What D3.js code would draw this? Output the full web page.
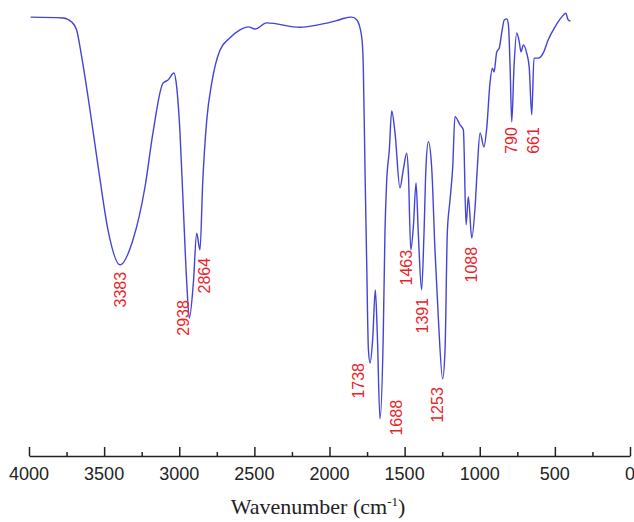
<!DOCTYPE html>
<html>
<head>
<meta charset="utf-8">
<script src="https://cdn.jsdelivr.net/npm/d3@7"></script>
<style>
body { margin: 0; background: #fff; }
svg { display: block; }
</style>
</head>
<body>
<svg id="chart" width="634" height="522"></svg>
<script>
// spectrum: wavenumber (cm-1) and transmittance (a.u.)
var wavenumber = [3989, 3774, 3716, 3683, 3649, 3594, 3527, 3474, 3394, 3308, 3228, 3175, 3108, 3075, 3035,
	3017, 2995, 2975, 2950, 2933, 2906, 2884, 2862, 2844, 2817, 2784, 2729, 2662, 2596, 2540, 2496, 2418, 2196, 2085, 1952,
	1908, 1852, 1819, 1786, 1775, 1764, 1752, 1741, 1730, 1713, 1695, 1682, 1664, 1642, 1631, 1620, 1602, 1586,
	1564, 1531, 1509, 1486, 1475, 1459, 1442, 1424, 1409, 1387, 1371, 1358, 1342, 1320, 1298, 1276, 1247, 1231,
	1216, 1198, 1180, 1165, 1131, 1109, 1091, 1076, 1053, 1031, 1016, 998, 972, 953, 932, 916, 905, 887, 870,
	854, 836, 820, 809, 798, 787, 772, 754, 737, 725, 710, 688, 671, 654, 639, 610, 577, 545, 499, 455, 427, 412, 396]
var transmittance = [96.1, 95.9, 95.0, 93.2, 87.0, 75.0, 59.1, 47.7, 39.8, 45.5, 57.5, 69.8, 81.1, 81.8, 83.4,
	80.2, 69.8, 54.5, 35.7, 27.7, 35.7, 47.0, 43.2, 58.4, 72.7, 81.1, 88.6, 91.4, 93.2, 93.9, 93.4, 94.8, 93.8, 94.3, 95.3,
	95.8, 96.1, 95.5, 91.7, 84.8, 62.0, 39.3, 20.5, 17.5, 22.7, 34.1, 24.3, 4.8, 24.3, 47.0, 58.4, 65.9, 74.8,
	69.8, 57.3, 61.4, 65.2, 60.7, 43.2, 48.4, 58.4, 47.0, 34.1, 47.0, 62.0, 67.8, 62.0, 43.2, 28.0, 13.9, 20.5,
	47.0, 54.5, 62.0, 73.5, 71.6, 70.5, 48.9, 55.3, 45.9, 53.0, 62.0, 69.8, 66.6, 71.1, 81.1, 84.5, 83.6, 88.2, 89.1,
	92.5, 95.5, 95.7, 94.3, 84.8, 72.3, 84.8, 92.5, 90.5, 88.2, 89.8, 88.0, 84.8, 73.9, 86.8, 86.8, 88.0, 90.9, 93.9, 96.1, 97.0, 95.5, 95.2]

// peak annotations: text, anchor wavenumber, top of the label (transmittance)
var peakLabels = ['3383', '2938', '2864', '1738', '1688', '1463', '1391', '1253', '1088', '790', '661']
var peakX = [3390, 2975, 2830, 1810, 1555, 1490, 1385, 1280, 1057, 790, 645]
var peakTop = [38.2, 31.8, 41.4, 17.5, 9.1, 43.2, 32.3, 12.0, 43.9, 71.1, 71.1]

var xTicks = [4000, 3500, 3000, 2500, 2000, 1500, 1000, 500, 0]

var svg = d3.select('#chart')

var x = d3.scaleLinear().domain([4000, 0]).range([29, 630])
var y = d3.scaleLinear().domain([0, 100]).range([440, 0])

var pts = wavenumber.map(function(w, i) { return [w, transmittance[i]] })

var line = d3.line()
	.x(function(d) { return x(d[0]) })
	.y(function(d) { return y(d[1]) })
	.curve(d3.curveMonotoneX)

svg.append('path')
	.datum(pts.slice().reverse())
	.attr('fill', 'none')
	.attr('stroke', '#4343d8')
	.attr('stroke-width', 1.4)
	.attr('stroke-linejoin', 'round')
	.attr('d', line)

// x axis, ticks pointing up, minor every 250
var axis = d3.axisTop(x)
	.tickValues(d3.range(0, 4001, 250))
	.tickSize(0)
	.tickFormat('')

var g = svg.append('g').attr('transform', 'translate(0,456)')
g.call(axis)
g.select('.domain').attr('stroke', '#222').attr('stroke-width', 1.5)
g.selectAll('.tick line')
	.attr('stroke', '#222')
	.attr('stroke-width', 1.5)
	.attr('y2', function(d) { return d % 500 == 0 ? -9 : -4 })

g.selectAll('.lbl')
	.data(xTicks)
	.enter().append('text')
	.attr('class', 'lbl')
	.attr('x', function(d) { return x(d) })
	.attr('y', 24)
	.attr('text-anchor', 'middle')
	.attr('font-family', 'Arial, "Liberation Sans", sans-serif')
	.attr('font-size', 18)
	.attr('fill', '#222')
	.text(function(d) { return d })

var title = svg.append('text')
	.attr('x', 318)
	.attr('y', 514)
	.attr('text-anchor', 'middle')
	.attr('font-family', '"Times New Roman", "Liberation Serif", serif')
	.attr('font-size', 22)
	.attr('fill', '#222')
title.append('tspan').text('Wavenumber (cm')
title.append('tspan').attr('dy', -8).attr('font-size', 13).text('-1')
title.append('tspan').attr('dy', 8).text(')')

svg.selectAll('.peak')
	.data(peakLabels)
	.enter().append('text')
	.attr('class', 'peak')
	.attr('transform', function(d, i) {
		return 'translate(' + x(peakX[i]) + ',' + y(peakTop[i]) + ') rotate(-90)'
	})
	.attr('text-anchor', 'end')
	.attr('dy', '0.35em')
	.attr('font-family', 'Arial, "Liberation Sans", sans-serif')
	.attr('font-size', 16)
	.attr('fill', '#e8242a')
	.text(function(d) { return d })
</script>
</body>
</html>
